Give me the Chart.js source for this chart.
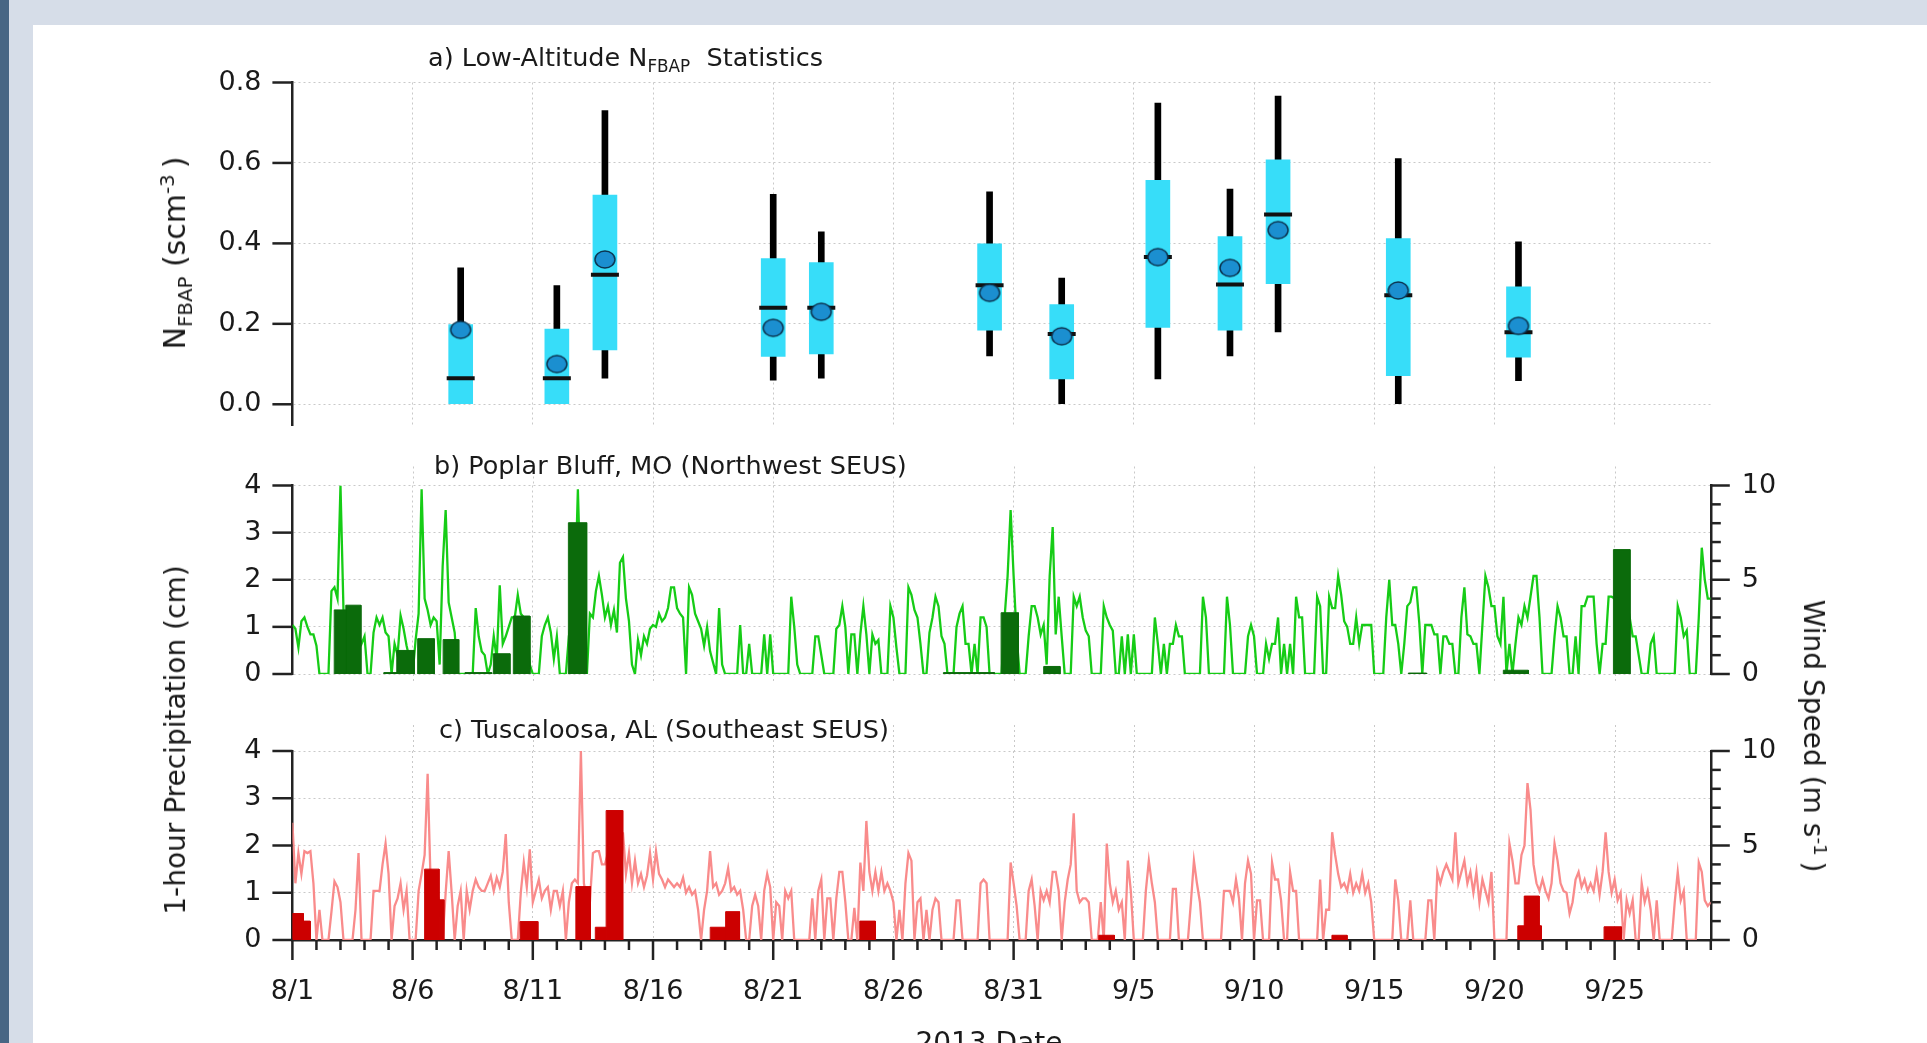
<!DOCTYPE html>
<html>
<head>
<meta charset="utf-8">
<script src="https://cdn.jsdelivr.net/npm/chart.js"></script>
<style>
  html, body { margin: 0; padding: 0; background: #fff; }
  #page { position: relative; width: 1927px; height: 1043px; overflow: hidden; background: #fff;
          font-family: 'DejaVu Sans', sans-serif; color: #1a1a1a; }
  .band-top  { position: absolute; left: 0; top: 0; width: 1927px; height: 25px; background: #d6dde8; }
  .band-left { position: absolute; left: 0; top: 0; width: 33px; height: 1043px; background: #d6dde8; }
  .strip     { position: absolute; left: 0; top: 0; width: 9px; height: 1043px; background: #486684; }
  canvas { position: absolute; left: 0; }
  .t   { position: absolute; white-space: nowrap; line-height: 1; font-size: 25.5px; }
  .rot { position: absolute; white-space: nowrap; line-height: 1; font-size: 28px;
         transform: translate(-50%, -50%) rotate(-90deg); }
  .rot.cw { transform: translate(-50%, -50%) rotate(90deg); }
  sub, sup { font-size: 0.66em; line-height: 0; }
</style>
</head>
<body>
<div id="page">
  <div class="band-top"></div>
  <div class="band-left"></div>
  <div class="strip"></div>

  <canvas id="cA" width="1927" height="480" style="top:0px;width:1927px;height:480px"></canvas>
  <canvas id="cB" width="1927" height="320" style="top:420px;width:1927px;height:320px"></canvas>
  <canvas id="cC" width="1927" height="353" style="top:690px;width:1927px;height:353px"></canvas>

  <div class="t" style="left:428px;top:45px">a) Low-Altitude N<sub>FBAP</sub>&nbsp; Statistics</div>
  <div class="t" style="left:434px;top:453px">b) Poplar Bluff, MO (Northwest SEUS)</div>
  <div class="t" style="left:439px;top:717px">c) Tuscaloosa, AL (Southeast SEUS)</div>

  <div class="rot" style="left:175px;top:253px;font-size:30px">N<sub>FBAP</sub> (scm<sup>-3</sup>&#8201;)</div>
  <div class="rot" style="left:176px;top:740px">1-hour Precipitation (cm)</div>
  <div class="rot cw" style="left:1813px;top:736px">Wind Speed (m s<sup>-1</sup>&#8201;)</div>
  <div class="t" style="left:989px;top:1029px;font-size:28px;transform:translateX(-50%)">2013 Date</div>
</div>

<script>
// ---------------------------------------------------------------------------
// Time axis: days after 2013-08-01 00:00
// ---------------------------------------------------------------------------
const dayMin = 0;
const dayMax = 59;
const dateTickDays = [0, 5, 10, 15, 20, 25, 30, 35, 40, 45, 50, 55];
const dateLabels   = ['8/1', '8/6', '8/11', '8/16', '8/21', '8/26', '8/31', '9/5', '9/10', '9/15', '9/20', '9/25'];

// ---------------------------------------------------------------------------
// (a) Low-altitude N_FBAP statistics per flight day (scm^-3)
// ---------------------------------------------------------------------------
const flightDays  = [7, 11, 13, 20, 22, 29, 32, 36, 39, 41, 46, 51];
const whiskerLow  = [0.000, 0.000, 0.065, 0.060, 0.065, 0.120, 0.000, 0.063, 0.120, 0.180, 0.000, 0.059];
const quartileLow = [0.000, 0.000, 0.135, 0.119, 0.125, 0.184, 0.063, 0.191, 0.184, 0.300, 0.071, 0.117];
const quartileHigh= [0.198, 0.187, 0.520, 0.362, 0.352, 0.399, 0.248, 0.557, 0.417, 0.608, 0.412, 0.292];
const whiskerHigh = [0.339, 0.295, 0.730, 0.522, 0.429, 0.528, 0.314, 0.749, 0.535, 0.766, 0.611, 0.404];
const medians     = [0.065, 0.065, 0.322, 0.240, 0.240, 0.296, 0.175, 0.366, 0.298, 0.472, 0.271, 0.179];
const means       = [0.185, 0.100, 0.360, 0.190, 0.230, 0.277, 0.169, 0.366, 0.339, 0.433, 0.283, 0.195];
const nfbapTicks  = [0, 0.2, 0.4, 0.6, 0.8];

// ---------------------------------------------------------------------------
// Surface station records: wind speed (m s^-1), 3-hourly from 8/1 00:00,
// one row per day; 1-hour precipitation events (cm) with start/end day.
// ---------------------------------------------------------------------------
const sampleStepDays = 0.125;
const precipTicks = [0, 1, 2, 3, 4];
const windTicks   = [0, 5, 10];

// (b) Poplar Bluff, MO
const windPoplarBluff = [
  2.6, 2.4, 1.4, 2.8, 3.0, 2.5, 2.1, 2.1,   // 8/1
  1.5, 0.0, 0.0, 0.0, 0.0, 4.4, 4.6, 4.0,
  10.0, 3.4, 3.0, 2.6, 2.4, 2.8, 2.0, 1.6,
  2.0, 0.0, 0.0, 2.2, 3.0, 2.6, 3.0, 2.2,
  2.0, 0.0, 1.6, 1.0, 3.1, 2.4, 1.5, 0.8,
  0.0, 1.8, 3.2, 9.8, 4.0, 3.4, 2.6, 3.0,   // 8/6
  2.8, 0.5, 5.7, 8.7, 3.8, 3.0, 2.2, 0.0,
  0.0, 0.0, 0.0, 0.0, 0.0, 3.5, 2.0, 1.2,
  1.0, 0.0, 0.5, 2.0, 0.8, 4.7, 1.6, 2.0,
  2.5, 3.0, 3.0, 4.2, 3.2, 3.0, 2.6, 0.5,
  0.0, 0.0, 0.0, 2.0, 2.6, 3.0, 2.2, 0.8,   // 8/11
  2.0, 0.0, 0.0, 0.0, 2.0, 3.0, 4.0, 9.8,
  4.0, 2.0, 0.0, 3.2, 3.0, 4.4, 5.2, 4.2,
  3.0, 3.6, 2.6, 3.4, 2.2, 5.9, 6.2, 4.0,
  2.8, 0.5, 0.0, 1.8, 1.0, 2.0, 1.6, 2.4,
  2.6, 2.5, 3.2, 2.8, 3.0, 3.5, 4.6, 4.6,   // 8/16
  3.5, 3.2, 3.0, 0.0, 4.6, 4.2, 3.2, 2.8,
  2.4, 1.5, 2.5, 1.2, 0.6, 0.0, 3.5, 0.5,
  0.0, 0.0, 0.0, 0.0, 0.0, 2.6, 0.0, 0.0,
  1.6, 0.0, 0.0, 0.0, 0.0, 2.1, 0.0, 2.1,
  0.0, 0.0, 0.0, 0.0, 0.0, 0.0, 4.1, 2.5,   // 8/21
  0.5, 0.0, 0.0, 0.0, 0.0, 0.0, 2.0, 2.0,
  1.0, 0.0, 0.0, 0.0, 0.0, 2.4, 2.6, 3.6,
  2.5, 0.0, 2.1, 2.1, 0.0, 2.1, 3.6, 2.1,
  0.0, 2.1, 1.6, 1.8, 0.0, 0.0, 0.0, 3.6,
  3.0, 1.4, 0.0, 0.0, 0.0, 4.6, 4.2, 3.4,   // 8/26
  3.0, 1.6, 0.0, 0.0, 2.2, 3.0, 4.1, 3.6,
  2.0, 1.6, 0.0, 0.0, 0.0, 2.5, 3.2, 3.6,
  1.6, 1.6, 0.0, 1.6, 0.0, 3.0, 3.0, 2.5,
  0.0, 0.0, 0.0, 0.0, 0.0, 3.0, 5.2, 8.7,
  5.2, 2.0, 0.0, 0.0, 0.0, 2.0, 3.6, 3.6,   // 8/31
  3.0, 2.1, 2.6, 0.5, 5.2, 7.8, 2.1, 4.1,
  2.0, 0.0, 0.0, 0.0, 4.1, 3.6, 4.1, 3.0,
  2.3, 2.0, 0.0, 0.0, 0.0, 0.0, 3.6, 3.0,
  2.6, 2.3, 0.0, 0.0, 2.0, 0.0, 2.1, 0.0,
  2.1, 0.0, 0.0, 0.0, 0.0, 0.0, 0.0, 3.0,   // 9/5
  1.6, 0.0, 1.6, 0.0, 1.6, 1.6, 2.6, 2.0,
  2.0, 0.0, 0.0, 0.0, 0.0, 0.0, 0.0, 4.1,
  3.0, 0.0, 0.0, 0.0, 0.0, 0.0, 0.0, 4.1,
  2.6, 0.0, 0.0, 0.0, 0.0, 0.0, 2.0, 2.6,
  2.0, 0.0, 0.0, 0.0, 1.6, 0.8, 1.6, 1.6,   // 9/10
  3.0, 0.0, 1.6, 0.0, 1.6, 0.0, 4.1, 3.0,
  3.0, 0.0, 0.0, 0.0, 0.0, 4.1, 3.6, 0.0,
  0.0, 4.1, 3.5, 3.5, 5.2, 4.2, 2.8, 2.5,
  1.6, 1.6, 3.0, 1.6, 2.6, 2.6, 2.6, 2.6,
  0.0, 0.0, 0.0, 0.0, 3.0, 5.0, 2.6, 2.6,   // 9/15
  1.6, 0.0, 1.6, 3.6, 3.8, 4.6, 4.6, 2.7,
  0.0, 2.6, 2.6, 2.6, 2.1, 2.1, 0.0, 2.0,
  2.0, 1.6, 1.6, 0.0, 0.0, 3.0, 4.6, 2.1,
  2.0, 1.6, 1.6, 0.0, 2.6, 5.2, 4.6, 3.6,
  3.6, 2.0, 1.6, 4.1, 0.0, 1.6, 0.0, 1.6,   // 9/20
  3.0, 2.6, 3.6, 3.0, 4.1, 5.2, 5.2, 3.0,
  0.0, 0.0, 0.0, 0.0, 2.0, 3.6, 3.0, 2.0,
  2.0, 0.0, 0.0, 2.0, 0.0, 3.6, 3.6, 4.1,
  4.1, 4.1, 1.6, 0.0, 1.6, 1.6, 4.1, 4.1,
  4.0, 3.5, 3.0, 2.6, 2.0, 3.0, 2.0, 2.0,   // 9/25
  1.0, 0.0, 0.0, 0.0, 1.6, 2.0, 0.0, 0.0,
  0.0, 0.0, 0.0, 0.0, 0.0, 3.6, 3.0, 2.0,
  2.3, 0.0, 0.0, 0.0, 3.0, 6.7, 5.0, 4.0,
  4.0                                        // 9/29 00:00
];
const rainStartPoplarBluff = [1.74, 2.22, 3.80, 4.34, 5.21, 6.27, 7.18, 8.36, 9.19, 11.48, 27.08, 29.48, 31.25, 46.42, 50.37, 54.95];
const rainEndPoplarBluff   = [2.22, 2.85, 4.34, 5.07, 5.90, 6.92, 8.29, 9.05, 9.88, 12.24, 29.20, 30.20, 31.93, 47.18, 51.41, 55.64];
const rainPoplarBluff      = [1.36, 1.46, 0.03, 0.50, 0.75, 0.73, 0.03, 0.43, 1.23, 3.21, 0.03, 1.30, 0.16, 0.02, 0.08, 2.64];

// (c) Tuscaloosa, AL
const windTuscaloosa = [
  6.2, 3.0, 4.6, 3.5, 4.7, 4.6, 4.7, 3.0,   // 8/1
  0.0, 1.6, 0.0, 0.0, 0.0, 1.5, 3.1, 2.8,
  2.0, 0.0, 0.0, 0.0, 0.0, 1.6, 4.6, 0.0,
  0.0, 0.0, 0.0, 2.6, 2.6, 2.6, 4.0, 5.1,
  3.5, 0.0, 1.8, 2.2, 3.0, 1.6, 2.6, 0.0,
  0.0, 0.0, 2.6, 3.5, 4.5, 8.8, 3.0, 2.0,   // 8/6
  2.5, 2.0, 0.0, 2.5, 4.7, 2.5, 0.0, 1.8,
  2.6, 0.0, 2.6, 1.6, 2.6, 3.2, 2.8, 2.6,
  2.6, 3.0, 3.4, 2.6, 3.3, 2.8, 3.6, 5.6,
  2.0, 0.0, 0.0, 0.0, 2.5, 4.1, 2.8, 4.8,
  2.0, 2.6, 3.2, 2.2, 2.6, 2.8, 1.6, 2.6,   // 8/11
  2.6, 1.8, 2.6, 0.0, 2.0, 3.0, 3.2, 3.0,
  10.0, 3.0, 2.1, 2.0, 4.6, 4.7, 4.7, 4.0,
  4.0, 4.6, 4.0, 3.5, 3.5, 4.0, 5.7, 3.5,
  4.6, 3.0, 4.2, 3.0, 3.5, 2.8, 3.4, 4.6,
  3.2, 4.7, 3.5, 3.2, 2.8, 3.2, 3.0, 2.8,   // 8/16
  3.0, 2.8, 3.3, 2.5, 2.8, 2.4, 2.6, 1.6,
  0.0, 1.6, 2.6, 4.7, 2.8, 3.0, 2.4, 2.6,
  3.0, 3.8, 2.6, 2.8, 2.4, 2.6, 1.6, 0.0,
  0.0, 1.8, 2.4, 1.8, 0.0, 2.6, 3.5, 2.8,
  0.0, 2.0, 1.8, 0.0, 2.6, 2.2, 2.6, 0.0,   // 8/21
  0.0, 0.0, 0.0, 0.0, 0.0, 2.2, 0.0, 2.6,
  3.2, 0.0, 2.2, 2.2, 0.0, 2.2, 3.6, 3.6,
  2.0, 0.0, 0.0, 1.7, 0.0, 4.1, 2.6, 6.3,
  3.6, 2.6, 3.6, 2.6, 3.6, 2.6, 3.0, 2.6,
  2.0, 0.0, 1.6, 0.0, 3.0, 4.6, 4.2, 0.0,   // 8/26
  2.0, 2.2, 0.0, 1.6, 0.0, 1.6, 2.2, 2.0,
  0.0, 0.0, 0.0, 0.0, 0.0, 2.1, 2.1, 0.0,
  0.0, 0.0, 0.0, 0.0, 0.0, 3.0, 3.2, 3.0,
  0.0, 0.0, 0.0, 0.0, 0.0, 0.0, 0.0, 4.1,
  3.0, 1.8, 0.0, 0.0, 0.0, 2.6, 3.2, 1.8,   // 8/31
  0.0, 2.6, 2.1, 2.6, 2.0, 3.6, 3.6, 2.6,
  0.0, 2.0, 3.2, 4.0, 6.7, 2.6, 2.0, 2.2,
  2.2, 2.0, 0.0, 0.0, 0.0, 2.0, 0.0, 5.1,
  3.0, 2.0, 2.6, 1.6, 2.0, 0.0, 4.2, 2.6,
  0.0, 0.0, 0.0, 0.0, 2.6, 4.2, 3.0, 2.0,   // 9/5
  0.0, 0.0, 0.0, 0.0, 0.0, 2.7, 2.7, 0.0,
  0.0, 0.0, 0.0, 2.0, 4.2, 3.0, 2.0, 0.0,
  0.0, 0.0, 0.0, 0.0, 0.0, 0.0, 2.6, 2.6,
  2.6, 2.0, 3.2, 2.2, 0.0, 3.0, 4.2, 3.5,
  0.0, 2.1, 2.1, 0.0, 0.0, 0.0, 4.1, 3.2,   // 9/10
  3.2, 2.1, 0.0, 0.0, 3.6, 2.6, 2.6, 0.0,
  0.0, 0.0, 0.0, 0.0, 0.0, 0.0, 3.2, 0.0,
  1.6, 1.6, 5.7, 4.5, 3.5, 2.8, 3.0, 2.6,
  3.5, 2.5, 3.0, 2.6, 3.5, 2.5, 3.0, 2.0,
  0.0, 0.0, 0.0, 0.0, 0.0, 0.0, 0.0, 3.2,   // 9/15
  2.1, 0.0, 0.0, 0.0, 2.1, 0.0, 0.0, 0.0,
  0.0, 0.0, 2.1, 2.1, 0.0, 3.6, 3.0, 3.6,
  4.0, 3.6, 3.2, 5.7, 3.0, 3.6, 4.2, 3.0,
  3.6, 2.5, 3.6, 2.0, 3.2, 2.6, 2.0, 3.6,
  0.0, 0.0, 0.0, 0.0, 0.0, 5.1, 4.2, 3.0,   // 9/20
  3.0, 4.5, 5.0, 8.3, 6.9, 4.0, 3.0, 2.6,
  3.2, 2.6, 2.2, 3.0, 5.1, 4.2, 3.0, 2.6,
  2.5, 1.4, 2.0, 3.2, 3.6, 2.8, 3.2, 2.6,
  3.0, 2.6, 3.6, 2.4, 3.6, 5.7, 3.6, 2.5,
  3.2, 2.1, 2.5, 0.0, 2.1, 1.4, 2.1, 0.0,   // 9/25
  0.0, 3.0, 2.0, 2.6, 1.6, 0.0, 2.1, 0.0,
  0.0, 0.0, 0.0, 0.0, 2.0, 3.6, 2.1, 2.6,
  0.0, 0.0, 0.0, 0.0, 4.1, 3.6, 2.1, 1.8,
  2.0                                        // 9/29 00:00
];
const rainStartTuscaloosa = [0.00, 0.46, 5.50, 6.10, 9.47, 11.79, 12.60, 13.05, 17.38, 18.02, 23.60, 33.54, 43.24, 50.97, 51.24, 54.56];
const rainEndTuscaloosa   = [0.46, 0.74, 6.10, 6.30, 10.21, 12.40, 13.05, 13.74, 18.02, 18.60, 24.25, 34.19, 43.87, 51.95, 51.86, 55.28];
const rainTuscaloosa      = [0.56, 0.40, 1.50, 0.85, 0.39, 1.13, 0.27, 2.74, 0.27, 0.60, 0.40, 0.10, 0.10, 0.30, 0.93, 0.28];

// ---------------------------------------------------------------------------
// Styling
// ---------------------------------------------------------------------------
const FONT = 'DejaVu Sans';
const TEXT = '#1a1a1a';
const AXIS = '#222222';
const AXIS_W = 2.5;
const GRID = '#c9c9c9';
const GRID_DASH = [2, 3];
const BOX_FILL = '#37ddf9';
const MEAN_FILL = '#1b8fd0';
const MEAN_EDGE = '#0c3450';
const WIND_B = '#16cc16';
const RAIN_B = '#0b6b0b';
const WIND_C = '#f98b8b';
const RAIN_C = '#cc0000';

Chart.defaults.font.family = FONT;
Chart.defaults.font.size = 27;
Chart.defaults.color = TEXT;

// Mean marker: slightly wide ellipse
function meanMarker() {
  const rx = 10, ry = 8.5;
  const c = document.createElement('canvas');
  c.width = Math.ceil(rx * 2 + 4); c.height = Math.ceil(ry * 2 + 4);
  const g = c.getContext('2d');
  g.beginPath();
  g.ellipse(c.width / 2, c.height / 2, rx, ry, 0, 0, Math.PI * 2);
  g.fillStyle = MEAN_FILL; g.fill();
  g.lineWidth = 1.5; g.strokeStyle = MEAN_EDGE; g.stroke();
  return c;
}

// Outward tick marks with major/minor lengths, plus dotted date gridlines that run
// slightly past the plot area; all positions come from the chart's own scales.
const tickMarks = {
  id: 'tickMarks',
  beforeDatasetsDraw(chart, args, opts) {
    const ext = opts.gridExtend;
    if (!ext) return;
    const ctx = chart.ctx, s = chart.scales.x, area = chart.chartArea;
    ctx.save();
    ctx.strokeStyle = GRID; ctx.lineWidth = 1; ctx.setLineDash(GRID_DASH);
    dateTickDays.filter(d => d > dayMin).forEach(d => {
      const p = Math.round(s.getPixelForValue(d)) + 0.5;
      ctx.beginPath();
      if (ext.above) { ctx.moveTo(p, area.top - ext.above); ctx.lineTo(p, area.top); }
      if (ext.below) { ctx.moveTo(p, area.bottom); ctx.lineTo(p, area.bottom + ext.below); }
      ctx.stroke();
    });
    ctx.restore();
  },
  afterDraw(chart, args, opts) {
    const ctx = chart.ctx;
    ctx.save();
    ctx.strokeStyle = AXIS;
    ctx.lineWidth = AXIS_W;
    (opts.marks || []).forEach(m => {
      const s = chart.scales[m.axis];
      m.values.forEach(v => {
        const len = m.isMajor(v) ? m.major : m.minor;
        const p = s.getPixelForValue(v);
        ctx.beginPath();
        if (s.isHorizontal()) { ctx.moveTo(p, s.top); ctx.lineTo(p, s.top + len); }
        else if (s.position === 'left') { ctx.moveTo(s.right - len, p); ctx.lineTo(s.right, p); }
        else { ctx.moveTo(s.left, p); ctx.lineTo(s.left + len, p); }
        ctx.stroke();
      });
    });
    ctx.restore();
  }
};

const range = (a, b, step) => { const out = []; for (let v = a; v <= b + 1e-9; v += step) out.push(+v.toFixed(6)); return out; };
const isMultiple = k => v => Math.abs(v / k - Math.round(v / k)) < 1e-6;

function timeAxis(showLabels, height) {
  return {
    type: 'linear', min: dayMin, max: dayMax, offset: false,
    afterBuildTicks: s => { s.ticks = dateTickDays.map(v => ({ value: v })); },
    afterFit: s => { s.height = height; },
    ticks: {
      display: showLabels, padding: 35.5, maxRotation: 0, autoSkip: false,
      callback: v => { const i = dateTickDays.indexOf(v); return i >= 0 ? dateLabels[i] : ''; }
    },
    grid: { offset: false, drawTicks: false, color: GRID, lineWidth: 1 },
    border: { display: showLabels, color: AXIS, width: AXIS_W, dash: GRID_DASH }
  };
}

function valueAxis(position, min, max, ticks, fmt, gridOnArea) {
  return {
    position, min, max,
    afterBuildTicks: s => { s.ticks = ticks.map(v => ({ value: v })); },
    afterFit: s => { s.width = 100; },
    ticks: { padding: 31, callback: fmt },
    grid: { drawTicks: false, drawOnChartArea: gridOnArea, color: GRID, lineWidth: 1 },
    border: { display: true, color: AXIS, width: AXIS_W, dash: GRID_DASH }
  };
}

const common = {
  responsive: false, animation: false, devicePixelRatio: 1, events: [],
  plugins: { legend: { display: false }, tooltip: { enabled: false }, title: { display: false } }
};

// ---------------------------------------------------------------------------
// (a) box statistics
// ---------------------------------------------------------------------------
new Chart(document.getElementById('cA'), {
  type: 'bar',
  plugins: [tickMarks],
  data: {
    datasets: [
      { type: 'bar', order: 3, grouped: false, barThickness: 6, backgroundColor: '#000',
        data: flightDays.map((d, i) => ({ x: d, y: [whiskerLow[i], whiskerHigh[i]] })) },
      { type: 'bar', order: 2, grouped: false, barThickness: 24, backgroundColor: BOX_FILL,
        data: flightDays.map((d, i) => ({ x: d, y: [quartileLow[i], quartileHigh[i]] })) },
      { type: 'scatter', order: 1, pointStyle: 'line', pointRadius: 14, pointBorderWidth: 4,
        borderColor: '#111', pointBorderColor: '#111',
        data: flightDays.map((d, i) => ({ x: d, y: medians[i] })) },
      { type: 'scatter', order: 0, pointStyle: meanMarker(), pointRadius: 10,
        data: flightDays.map((d, i) => ({ x: d, y: means[i] })) }
    ]
  },
  options: {
    ...common,
    layout: { autoPadding: false, padding: { left: 192.4, right: 216.2, top: 82.5, bottom: 55 } },
    scales: {
      x: timeAxis(false, 0),
      y: valueAxis('left', -0.0515, 0.8, nfbapTicks, v => v.toFixed(1), true)
    },
    plugins: { ...common.plugins,
      tickMarks: { marks: [ { axis: 'y', values: nfbapTicks, isMajor: () => true, major: 20, minor: 20 } ] } }
  }
});

// ---------------------------------------------------------------------------
// (b), (c) wind speed lines with precipitation blocks
// ---------------------------------------------------------------------------
function windPoints(values) {
  return values.map((v, i) => ({ x: i * sampleStepDays, y: v }));
}
function rainOutline(starts, ends, amounts) {
  const pts = [];
  starts.forEach((s, i) => {
    pts.push({ x: s, y: 0 }, { x: s, y: amounts[i] }, { x: ends[i], y: amounts[i] }, { x: ends[i], y: 0 },
             { x: ends[i], y: null });
  });
  return pts;
}

function stationChart(id, wind, starts, ends, amounts, lineColor, rainColor, pad, axisHeight, gridExtend) {
  const withDates = axisHeight > 0;
  const marks = [
    { axis: 'y', values: precipTicks, isMajor: () => true, major: 20, minor: 20 },
    { axis: 'y2', values: range(0, 10, 1), isMajor: isMultiple(5), major: 19, minor: 10 }
  ];
  if (withDates) marks.push({ axis: 'x', values: range(dayMin, dayMax, 1), isMajor: isMultiple(5), major: 20, minor: 10 });
  return new Chart(document.getElementById(id), {
    type: 'line',
    plugins: [tickMarks],
    data: {
      datasets: [
        { order: 0, yAxisID: 'y', data: rainOutline(starts, ends, amounts),
          borderColor: rainColor, backgroundColor: rainColor, borderWidth: 1, fill: 'origin',
          pointRadius: 0, tension: 0, spanGaps: false },
        { order: 1, yAxisID: 'y2', data: windPoints(wind),
          borderColor: lineColor, borderWidth: 2.3, fill: false, pointRadius: 0, tension: 0 }
      ]
    },
    options: {
      ...common,
      layout: { autoPadding: false, padding: pad },
      scales: {
        x: timeAxis(withDates, axisHeight),
        y: valueAxis('left', 0, 4, precipTicks, v => String(v), true),
        y2: valueAxis('right', 0, 10, windTicks, v => String(v), false)
      },
      plugins: { ...common.plugins, tickMarks: { marks, gridExtend } }
    }
  });
}

stationChart('cB', windPoplarBluff, rainStartPoplarBluff, rainEndPoplarBluff, rainPoplarBluff, WIND_B, RAIN_B,
             { left: 192.4, right: 116.2, top: 65.5, bottom: 66 }, 0, { above: 19, below: 9 });
stationChart('cC', windTuscaloosa, rainStartTuscaloosa, rainEndTuscaloosa, rainTuscaloosa, WIND_C, RAIN_C,
             { left: 192.4, right: 116.2, top: 61, bottom: 23 }, 80, { above: 26, below: 0 });
</script>
</body>
</html>
